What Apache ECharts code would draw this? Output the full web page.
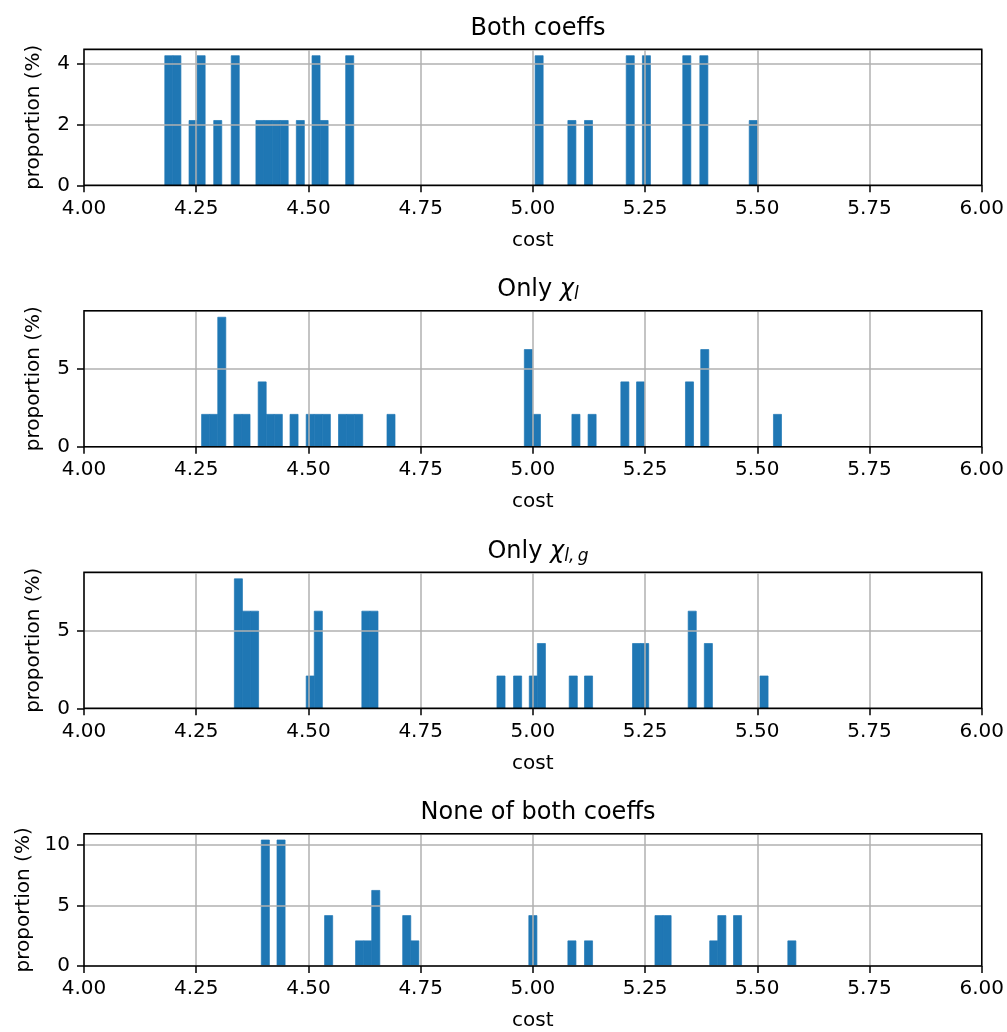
<!DOCTYPE html>
<html>
<head>
<meta charset="utf-8">
<script src="https://cdn.jsdelivr.net/npm/echarts@6/dist/echarts.min.js"></script>
<style>
html,body{margin:0;padding:0;background:#fff;}
#chart{width:1007px;height:1032px;}
</style>
</head>
<body>
<div id="chart"></div>
<script>
// ---- data (cost bin left edges, bin width, proportion %) ----
const xTicks = [4.00, 4.25, 4.50, 4.75, 5.00, 5.25, 5.50, 5.75, 6.00];

const bothBinWidth = 0.0179;
const bothLeft = [4.180, 4.198, 4.234, 4.252, 4.289, 4.328, 4.383, 4.401, 4.419, 4.437, 4.473, 4.508, 4.526, 4.583, 5.005, 5.078, 5.115, 5.208, 5.244, 5.334, 5.372, 5.482];
const bothPct  = [4.26, 4.26, 2.13, 4.26, 2.13, 4.26, 2.13, 2.13, 2.13, 2.13, 2.13, 4.26, 2.13, 4.26, 4.26, 2.13, 2.13, 4.26, 4.26, 4.26, 4.26, 2.13];

const chiLBinWidth = 0.0179;
const chiLLeft = [4.262, 4.280, 4.298, 4.334, 4.352, 4.388, 4.406, 4.424, 4.459, 4.495, 4.513, 4.531, 4.567, 4.585, 4.603, 4.675, 4.981, 4.999, 5.087, 5.123, 5.196, 5.231, 5.340, 5.374, 5.536];
const chiLPct  = [2.08, 2.08, 8.33, 2.08, 2.08, 4.17, 2.08, 2.08, 2.08, 2.08, 2.08, 2.08, 2.08, 2.08, 2.08, 2.08, 6.25, 2.08, 2.08, 2.08, 4.17, 4.17, 4.17, 6.25, 2.08];

const chiLGBinWidth = 0.018;
const chiLGLeft = [4.335, 4.353, 4.371, 4.495, 4.513, 4.619, 4.637, 4.920, 4.957, 4.992, 5.010, 5.081, 5.115, 5.222, 5.240, 5.346, 5.382, 5.506];
const chiLGPct  = [8.33, 6.25, 6.25, 2.08, 6.25, 6.25, 6.25, 2.08, 2.08, 2.08, 4.17, 2.08, 2.08, 4.17, 4.17, 6.25, 4.17, 2.08];

const noneBinWidth = 0.018;
const noneLeft = [4.395, 4.430, 4.536, 4.605, 4.623, 4.641, 4.710, 4.728, 4.991, 5.078, 5.115, 5.272, 5.290, 5.394, 5.412, 5.447, 5.568];
const nonePct  = [10.42, 10.42, 4.17, 2.08, 2.08, 6.25, 4.17, 2.08, 4.17, 2.08, 2.08, 4.17, 4.17, 2.08, 4.17, 4.17, 2.08];

const yMaxes = [4.47, 8.75, 8.75, 10.94];
const yIntervals = [2, 5, 5, 5];

// ---- layout ----
const FONT = 'DejaVu Sans';
const gridLeft = 84, gridWidth = 898, gridHeight = 136;
const gridTops = [49.3, 310.7, 572.3, 833.7];
const titles = [
  '{a|Both coeffs}',
  '{a|Only }{m|χ}{s|l}',
  '{a|Only }{m|χ}{s|l,\u2009g}',
  '{a|None of both coeffs}'
];
const ylabelGaps = [40, 40, 40, 48];

const panels = [
  [bothLeft, bothPct, bothBinWidth],
  [chiLLeft, chiLPct, chiLBinWidth],
  [chiLGLeft, chiLGPct, chiLGBinWidth],
  [noneLeft, nonePct, noneBinWidth]
];

const richTitle = {
  a: {fontFamily: FONT, fontSize: 24, color: '#000', lineHeight: 30},
  m: {fontFamily: FONT, fontSize: 24, fontStyle: 'italic', color: '#000', lineHeight: 30},
  s: {fontFamily: FONT, fontSize: 17, fontStyle: 'italic', color: '#000', lineHeight: 30, padding: [10, 0, 0, 0]}
};

const option = {
  animation: false,
  backgroundColor: '#fff',
  title: gridTops.map((t, i) => ({
    text: titles[i],
    left: gridLeft + gridWidth / 2,
    textAlign: 'center',
    top: t - 41,
    textStyle: {rich: richTitle, fontFamily: FONT, fontSize: 24, fontWeight: 'normal', color: '#000'}
  })),
  grid: gridTops.map(t => ({
    left: gridLeft, top: t, width: gridWidth, height: gridHeight,
    show: true, borderColor: '#000', borderWidth: 1.5, backgroundColor: 'transparent', z: 5
  })),
  xAxis: gridTops.map((t, i) => ({
    type: 'value', gridIndex: i, min: 4, max: 6, interval: 0.25,
    name: 'cost', nameLocation: 'middle', nameGap: 45,
    nameTextStyle: {fontFamily: FONT, fontSize: 20, color: '#000'},
    axisLine: {show: false},
    axisTick: {show: true, inside: false, length: 7, lineStyle: {color: '#000', width: 1.5}},
    axisLabel: {fontFamily: FONT, fontSize: 20, color: '#000', margin: 13,
      formatter: v => v.toFixed(2), showMinLabel: true, showMaxLabel: true},
    splitLine: {show: true, lineStyle: {color: '#b0b0b0', width: 1.5}},
    z: 4
  })),
  yAxis: gridTops.map((t, i) => ({
    type: 'value', gridIndex: i, min: 0, max: yMaxes[i], interval: yIntervals[i],
    name: 'proportion (%)', nameLocation: 'middle', nameRotate: 90, nameGap: ylabelGaps[i],
    nameTextStyle: {fontFamily: FONT, fontSize: 20, color: '#000'},
    axisLine: {show: false},
    axisTick: {show: true, inside: false, length: 7, lineStyle: {color: '#000', width: 1.5}},
    axisLabel: {fontFamily: FONT, fontSize: 20, color: '#000', margin: 14, showMaxLabel: false},
    splitLine: {show: true, lineStyle: {color: '#b0b0b0', width: 1.5}},
    z: 4
  })),
  series: panels.map((p, i) => ({
    type: 'custom',
    xAxisIndex: i, yAxisIndex: i,
    z: 1,
    data: p[0].map((x, j) => [x, x + p[2], p[1][j]]),
    encode: {x: [0, 1], y: 2},
    renderItem: function (params, api) {
      const p0 = api.coord([api.value(0), api.value(2)]);
      const p1 = api.coord([api.value(1), 0]);
      return {
        type: 'rect',
        shape: {x: p0[0], y: p0[1], width: p1[0] - p0[0], height: p1[1] - p0[1]},
        style: {fill: '#1f77b4', stroke: '#1f77b4', lineWidth: 0.7}
      };
    }
  }))
};

const chart = echarts.init(document.getElementById('chart'), null, {renderer: 'canvas'});
chart.setOption(option);
</script>
</body>
</html>
